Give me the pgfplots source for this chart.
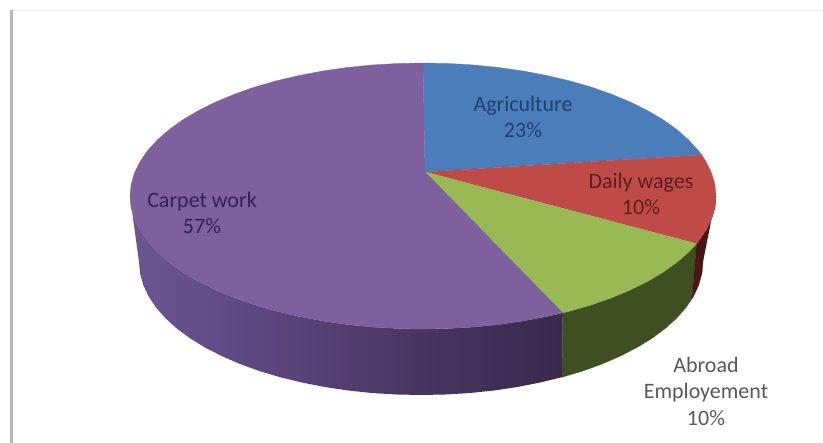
\documentclass[border=0pt]{standalone}
\usepackage{pgfplots}
\pgfplotsset{compat=1.18}
\usepackage{fontspec}
\setmainfont{Carlito}
\definecolor{pieblue}{HTML}{4A7DBA}
\definecolor{piered}{HTML}{BE4B48}
\definecolor{piegreen}{HTML}{98B954}
\definecolor{piepurple}{HTML}{7E609E}
\definecolor{sidegreen}{HTML}{404E23}
\definecolor{sidered}{HTML}{491615}
\definecolor{pa}{HTML}{6C5692}
\definecolor{pb}{HTML}{604A85}
\definecolor{pc}{HTML}{554072}
\definecolor{pd}{HTML}{47355F}
\definecolor{pe}{HTML}{3F2E55}
\definecolor{pf}{HTML}{392A4C}
\definecolor{lblblue}{HTML}{1F3F70}
\definecolor{lblred}{HTML}{5A1E1E}
\definecolor{lblpurple}{HTML}{32205A}
\definecolor{lblgray}{HTML}{595959}
% Rim of the carpet-work slice darkens from left to right
\pgfdeclarehorizontalshading{purpleside}{100bp}{color(0bp)=(pa);color(25bp)=(pa);color(36.5bp)=(pb);color(48bp)=(pc);color(58.5bp)=(pd);color(67.7bp)=(pe);color(75bp)=(pf);color(100bp)=(pf)}
\tikzset{lab/.style={font=\fontsize{22}{26.5}\selectfont, align=center, inner sep=0pt}}
\begin{document}
\begin{tikzpicture}
\begin{axis}[
  scale only axis, width=823pt, height=443pt,
  xmin=0, xmax=823, ymin=0, ymax=443, y dir=reverse,
  hide axis, no marks, clip=true,
]
% page background and frame
\addplot[fill=white, draw=none] coordinates {(0,0) (823,0) (823,443) (0,443)};
\addplot[draw=black!8, line width=1pt] coordinates {(12,10.5) (823,10.5)};
\addplot[draw=black!28, line width=2.5pt] coordinates {(11.5,10) (11.5,443)};

% side wall: carpet work
\addplot[shade, shading=purpleside, draw=none] coordinates {
 (562.8,312.9) (546.8,316.5) (523.2,321) (498.8,324.5) (473.9,327) (448.5,328.5) (423,329)
 (397.5,328.5) (372.1,327) (347.2,324.5) (322.8,321) (299.2,316.5) (276.5,311.2) (254.9,305)
 (234.7,297.9) (215.8,290) (198.6,281.5) (183,272.3) (169.3,262.5) (157.5,252.2) (147.7,241.5)
 (140,230.4) (134.5,219.1) (131.1,207.6) (130,196)
 (139,262) (140.1,273.6) (143.3,285.1) (148.6,296.4) (156,307.5) (165.4,318.2) (176.8,328.5)
 (190,338.3) (205,347.5) (221.6,356) (239.7,363.9) (259.2,371) (280,377.2) (301.8,382.5)
 (324.6,387) (348,390.5) (372,393) (396.4,394.5) (421,395) (445.6,394.5) (470,393) (494,390.5)
 (517.4,387) (540.2,382.5) (562,377.2)};
% side wall: abroad employment
\addplot[fill=sidegreen, draw=sidegreen, line width=0.3pt] coordinates {
 (696.5,243.7) (688.5,252.2) (676.7,262.5) (663,272.3) (647.4,281.5) (630.2,290) (611.3,297.9)
 (591.1,305) (569.5,311.2) (562.8,312.9)
 (562,377.2) (582.8,371) (602.3,363.9) (620.4,356) (637,347.5) (652,338.3) (665.2,328.5)
 (676.6,318.2) (686,307.5) (692,298.7)};
% side wall: daily wages
\addplot[fill=sidered, draw=sidered, line width=0.3pt] coordinates {
 (716,196) (714.9,207.6) (711.5,219.1) (706,230.4) (698.3,241.5) (696.5,243.7)
 (692,298.7) (693.4,296.4) (698.7,285.1) (701.9,273.6) (703,262)};

% top face: agriculture
\addplot[fill=pieblue, draw=pieblue, line width=0.3pt] coordinates {
 (425,172) (423,63) (448.5,63.5) (473.9,65) (498.8,67.5) (523.2,71) (546.8,75.5) (569.5,80.8)
 (591.1,87) (611.3,94.1) (630.2,102) (647.4,110.5) (663,119.7) (676.7,129.5) (688.5,139.8)
 (698.3,150.5) (701.7,154.9)};
% top face: daily wages
\addplot[fill=piered, draw=piered, line width=0.3pt] coordinates {
 (425,172) (701.7,154.9) (706,161.6) (711.5,172.9) (714.9,184.4) (716,196) (714.9,207.6)
 (711.5,219.1) (706,230.4) (698.3,241.5) (696.5,243.7)};
% top face: abroad employment
\addplot[fill=piegreen, draw=piegreen, line width=0.3pt] coordinates {
 (425,172) (696.5,243.7) (688.5,252.2) (676.7,262.5) (663,272.3) (647.4,281.5) (630.2,290)
 (611.3,297.9) (591.1,305) (569.5,311.2) (562.8,312.9)};
% top face: carpet work
\addplot[fill=piepurple, draw=piepurple, line width=0.3pt] coordinates {
 (425,172) (562.8,312.9) (546.8,316.5) (523.2,321) (498.8,324.5) (473.9,327) (448.5,328.5)
 (423,329) (397.5,328.5) (372.1,327) (347.2,324.5) (322.8,321) (299.2,316.5) (276.5,311.2)
 (254.9,305) (234.7,297.9) (215.8,290) (198.6,281.5) (183,272.3) (169.3,262.5) (157.5,252.2)
 (147.7,241.5) (140,230.4) (134.5,219.1) (131.1,207.6) (130,196) (131.1,184.4) (134.5,172.9)
 (140,161.6) (147.7,150.5) (157.5,139.8) (169.3,129.5) (183,119.7) (198.6,110.5) (215.8,102)
 (234.7,94.1) (254.9,87) (276.5,80.8) (299.2,75.5) (322.8,71) (347.2,67.5) (372.1,65)
 (397.5,63.5) (423,63)};

% slice labels
\node[lab, text=lblblue] at (axis cs:523,117) {Agriculture\\23\%};
\node[lab, text=lblred] at (axis cs:641,194) {Daily wages\\10\%};
\node[lab, text=lblpurple] at (axis cs:202,213) {Carpet work\\57\%};
\node[lab, text=lblgray] at (axis cs:706,391) {Abroad\\Employement\\10\%};
\end{axis}
\end{tikzpicture}
\end{document}
